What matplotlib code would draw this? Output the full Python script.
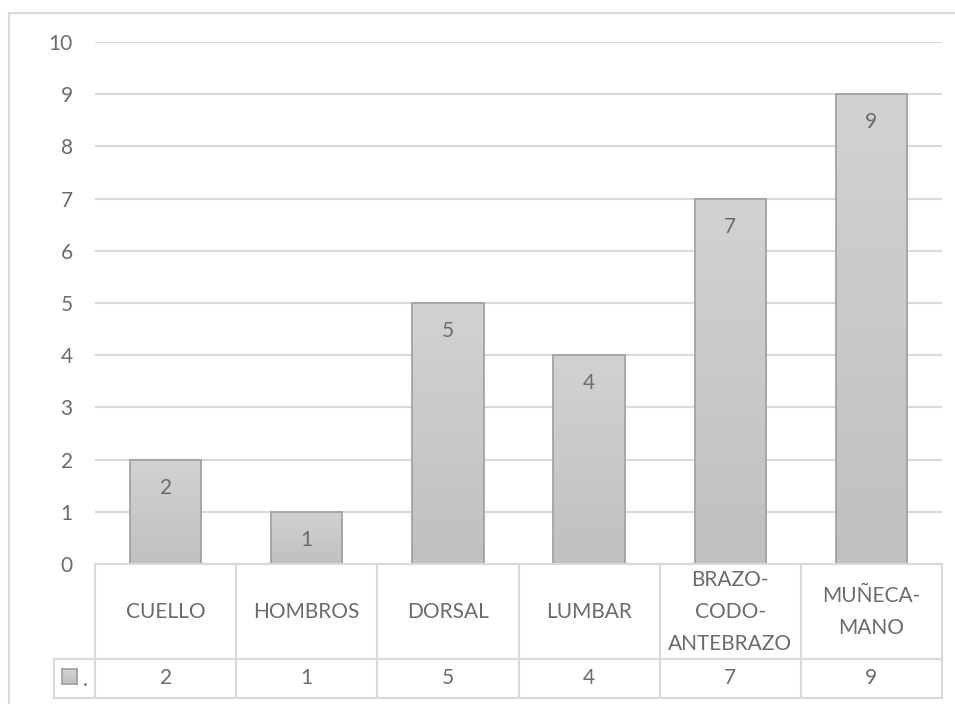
import matplotlib
matplotlib.use("Agg")
import matplotlib.pyplot as plt
import numpy as np
from matplotlib.lines import Line2D
from matplotlib.colors import LinearSegmentedColormap

categories = ["CUELLO", "HOMBROS", "DORSAL", "LUMBAR", "BRAZO-\nCODO-\nANTEBRAZO", "MUÑECA-\nMANO"]
values = [2, 1, 5, 4, 7, 9]
yticks = [0, 1, 2, 3, 4, 5, 6, 7, 8, 9, 10]
series_name = "."

plt.rcParams['font.family'] = ['Lato', 'DejaVu Sans']
TXT = '#6b6b6b'
GRID = '#d9d9d9'
FS = 15
W, H = 955, 704
fig = plt.figure(figsize=(W / 100, H / 100), dpi=100)

def fx(px):
    return px / W
def fy(py):
    return 1 - py / H

L, R, T, B = 95, 942, 42, 564
ax = fig.add_axes([fx(L), fy(B), fx(R) - fx(L), fy(T) - fy(B)])
x = np.arange(len(categories))
bw = 0.505
grad = np.linspace(0, 1, 100).reshape(-1, 1)
cmap = LinearSegmentedColormap.from_list('g', ['#c0c0c0', '#d2d2d2'])
bars = ax.bar(x, values, width=bw, color='none', edgecolor='#a3a3a3', linewidth=1.3, zorder=3)
for b in bars:
    x0, y0 = b.get_x(), b.get_y()
    im = ax.imshow(grad, cmap=cmap, origin='lower', aspect='auto',
                   extent=[x0, x0 + b.get_width(), y0, y0 + b.get_height()], zorder=2)
    im.set_clip_path(b)
for xi, v in zip(x, values):
    ax.annotate(str(v), (xi, v), xytext=(0, -28), textcoords='offset pixels',
                ha='center', va='center', fontsize=FS, color=TXT, zorder=4)

ax.set_xlim(-0.5, len(categories) - 0.5)
ax.set_ylim(0, 10)
ax.set_yticks(yticks)
ax.set_xticks([])
ax.yaxis.grid(True, color=GRID, linewidth=1.5)
ax.set_axisbelow(True)
for s in ax.spines.values():
    s.set_visible(False)
ax.tick_params(axis='y', length=0, pad=16, labelsize=FS, labelcolor=TXT)

# data table below the plot (figure pixel coords)
ftr = fig.transFigure
def hline(y, x0, x1):
    fig.add_artist(Line2D([fx(x0), fx(x1)], [fy(y), fy(y)], color=GRID, lw=1.5, transform=ftr))
def vline(xp, y0, y1):
    fig.add_artist(Line2D([fx(xp), fx(xp)], [fy(y0), fy(y1)], color=GRID, lw=1.5, transform=ftr))

ROW1, ROW2, LEG = 659, 698, 54
colw = (R - L) / len(categories)
hline(B, L, R)
hline(ROW1, LEG, R)
hline(ROW2, LEG, R)
vline(LEG, ROW1, ROW2)
for i in range(len(categories) + 1):
    vline(L + i * colw, B, ROW2)
for i, (c, v) in enumerate(zip(categories, values)):
    cx = L + (i + 0.5) * colw
    fig.text(fx(cx), fy((B + ROW1) / 2 + 1), c, ha='center', va='center', fontsize=FS,
             color=TXT, linespacing=1.75)
    fig.text(fx(cx), fy((ROW1 + ROW2) / 2), str(v), ha='center', va='center', fontsize=FS, color=TXT)

# legend key
kx0, ky0, ks = 62, 669, 15
keyax = fig.add_axes([fx(kx0), fy(ky0 + ks), fx(ks), fy(ky0) - fy(ky0 + ks)])
keyax.imshow(grad, cmap=cmap, origin='lower', aspect='auto', extent=[0, 1, 0, 1])
keyax.set_xticks([]); keyax.set_yticks([])
for s in keyax.spines.values():
    s.set_color('#a3a3a3'); s.set_linewidth(1.3)
fig.text(fx(83), fy(680), series_name, ha='left', va='center', fontsize=FS, color=TXT)

# outer chart border
fig.add_artist(Line2D([fx(9), fx(9)], [fy(13), -0.1], color=GRID, lw=1.5, transform=ftr))
fig.add_artist(Line2D([fx(9), 1.1], [fy(13), fy(13)], color=GRID, lw=1.5, transform=ftr))

fig.savefig("out.png", dpi=100)
